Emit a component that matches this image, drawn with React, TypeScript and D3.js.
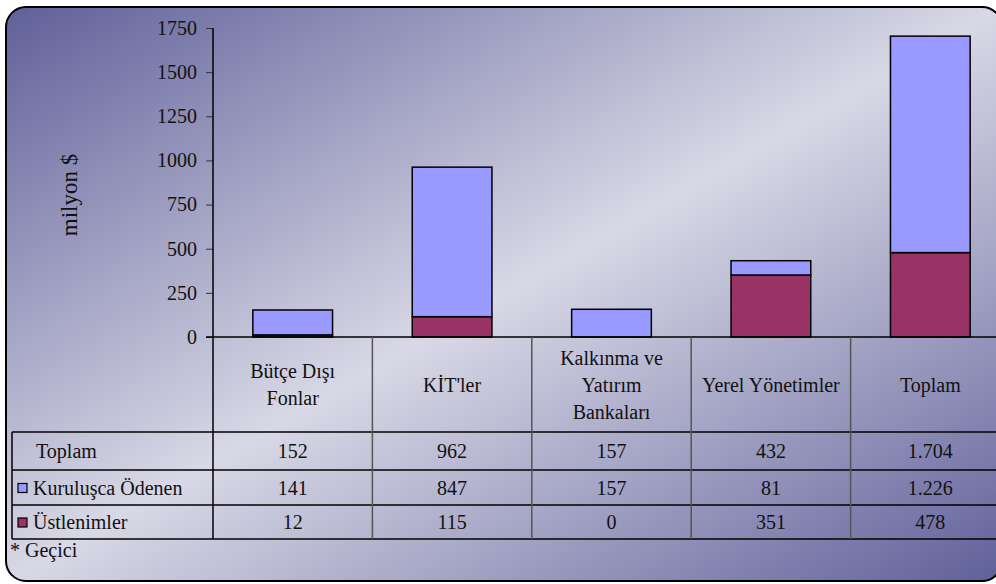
import { useRef, useEffect } from 'react'
import * as d3 from 'd3'

const categories = ['Bütçe Dışı Fonlar', "KİT'ler", 'Kalkınma ve Yatırım Bankaları', 'Yerel Yönetimler', 'Toplam']
const headerLines = [['Bütçe Dışı', 'Fonlar'], ["KİT'ler"], ['Kalkınma ve', 'Yatırım', 'Bankaları'], ['Yerel Yönetimler'], ['Toplam']]
const toplam = [152, 962, 157, 432, 1704]
const kurulusca = [141, 847, 157, 81, 1226]
const ustlenimler = [12, 115, 0, 351, 478]
const yTicks = [0, 250, 500, 750, 1000, 1250, 1500, 1750]

const FONT = 'Liberation Serif'
const FS = 20

const App = () => {
  const chartRef = useRef<SVGSVGElement>(null)

  useEffect(() => {
    drawChart()
  }, [])

  const drawChart = () => {
    const svg = d3.select(chartRef.current)
    svg.selectAll('*').remove()

    const axisX = 213
    const plotTop = 28
    const plotBottom = 337
    const tableLeft = 12
    const rowLines = [337, 432, 470, 505, 539]
    const step = 159.4

    const fmt = d3.formatLocale({ decimal: ',', thousands: '.', grouping: [3], currency: ['', ''] }).format(',')

    const defs = svg.append('defs')
    const grad = defs.append('linearGradient')
      .attr('id', 'bg')
      .attr('x1', 0).attr('y1', 0).attr('x2', 1).attr('y2', 1)
    grad.append('stop').attr('offset', 0).attr('stop-color', '#60609a')
    grad.append('stop').attr('offset', 0.5).attr('stop-color', '#d8d8e6')
    grad.append('stop').attr('offset', 1).attr('stop-color', '#60609a')

    svg.append('rect')
      .attr('x', 6).attr('y', 7)
      .attr('width', 996).attr('height', 574)
      .attr('rx', 20)
      .attr('fill', 'url(#bg)')
      .attr('stroke', '#000')
      .attr('stroke-width', 2)

    const x = d3.scaleBand()
      .domain(categories)
      .range([axisX, axisX + step * categories.length])
      .paddingInner(0.5)
      .paddingOuter(0.25)

    const y = d3.scaleLinear()
      .domain([0, 1750])
      .range([plotBottom, plotTop])

    // stacked bars: Üstlenimler at the bottom, Kuruluşca Ödenen on top
    const g = svg.append('g')
    categories.forEach((c, i) => {
      g.append('rect')
        .attr('x', x(c))
        .attr('y', y(ustlenimler[i]))
        .attr('width', x.bandwidth())
        .attr('height', y(0) - y(ustlenimler[i]))
        .attr('fill', '#993366')
        .attr('stroke', '#000')
        .attr('stroke-width', 1.5)
      g.append('rect')
        .attr('x', x(c))
        .attr('y', y(ustlenimler[i] + kurulusca[i]))
        .attr('width', x.bandwidth())
        .attr('height', y(ustlenimler[i]) - y(ustlenimler[i] + kurulusca[i]))
        .attr('fill', '#9999ff')
        .attr('stroke', '#000')
        .attr('stroke-width', 1.5)
    })

    const yAxis = svg.append('g')
      .attr('transform', `translate(${axisX},0)`)
      .call(d3.axisLeft(y).tickValues(yTicks).tickFormat(d3.format('d')).tickSize(7).tickSizeOuter(0).tickPadding(9))
    yAxis.select('.domain').remove()
    yAxis.attr('font-family', FONT).attr('font-size', FS)
    yAxis.selectAll('.tick line').attr('stroke', '#333')
    yAxis.selectAll('text').attr('fill', '#111')

    svg.append('text')
      .attr('transform', 'translate(77,195) rotate(-90)')
      .attr('text-anchor', 'middle')
      .attr('font-family', FONT)
      .attr('font-size', 23)
      .attr('fill', '#111')
      .text('milyon $')

    // table grid
    const tbl = svg.append('g')
      .attr('font-family', FONT)
      .attr('font-size', FS)
      .attr('fill', '#111')
    rowLines.forEach((ly, i) => {
      tbl.append('line')
        .attr('x1', i === 0 ? axisX - 7 : tableLeft).attr('x2', 1010)
        .attr('y1', ly).attr('y2', ly)
        .attr('stroke', '#000').attr('stroke-width', 1.5)
    })
    tbl.append('line')
      .attr('x1', tableLeft).attr('x2', tableLeft)
      .attr('y1', rowLines[1]).attr('y2', rowLines[4])
      .attr('stroke', '#000').attr('stroke-width', 1.5)
    tbl.append('line')
      .attr('x1', axisX).attr('x2', axisX)
      .attr('y1', plotTop).attr('y2', rowLines[4])
      .attr('stroke', '#000').attr('stroke-width', 1.5)
    categories.slice(1).forEach((c, i) => {
      const cx = axisX + step * (i + 1)
      tbl.append('line')
        .attr('x1', cx).attr('x2', cx)
        .attr('y1', rowLines[0]).attr('y2', rowLines[4])
        .attr('stroke', '#555').attr('stroke-width', 1.5)
    })

    // header labels
    categories.forEach((c, i) => {
      const cx = x(c)! + x.bandwidth() / 2
      const lines = headerLines[i]
      const lh = 27
      const midY = (rowLines[0] + rowLines[1]) / 2
      lines.forEach((t, j) => {
        tbl.append('text')
          .attr('x', cx)
          .attr('y', midY + (j - (lines.length - 1) / 2) * lh)
          .attr('dy', '0.35em')
          .attr('text-anchor', 'middle')
          .text(t)
      })
    })

    const rows = [
      { label: 'Toplam', values: toplam, color: null },
      { label: 'Kuruluşca Ödenen', values: kurulusca, color: '#9999ff' },
      { label: 'Üstlenimler', values: ustlenimler, color: '#993366' },
    ]
    rows.forEach((r, ri) => {
      const cy = (rowLines[ri + 1] + rowLines[ri + 2]) / 2
      if (r.color) {
        tbl.append('rect')
          .attr('x', 18).attr('y', cy - 4)
          .attr('width', 9).attr('height', 9)
          .attr('fill', r.color)
          .attr('stroke', '#000').attr('stroke-width', 1.2)
      }
      tbl.append('text')
        .attr('x', r.color ? 33 : 36)
        .attr('y', cy)
        .attr('dy', '0.35em')
        .text(r.label)
      categories.forEach((c, i) => {
        tbl.append('text')
          .attr('x', x(c)! + x.bandwidth() / 2)
          .attr('y', cy)
          .attr('dy', '0.35em')
          .attr('text-anchor', 'middle')
          .text(fmt(r.values[i]))
      })
    })

    svg.append('text')
      .attr('x', 10).attr('y', 557)
      .attr('font-family', FONT)
      .attr('font-size', FS)
      .attr('fill', '#111')
      .text('* Geçici')
  }

  return (
    <svg ref={chartRef} width={996} height={584} style={{ position: 'absolute', left: 0, top: 0 }}></svg>
  )
}

export default App
